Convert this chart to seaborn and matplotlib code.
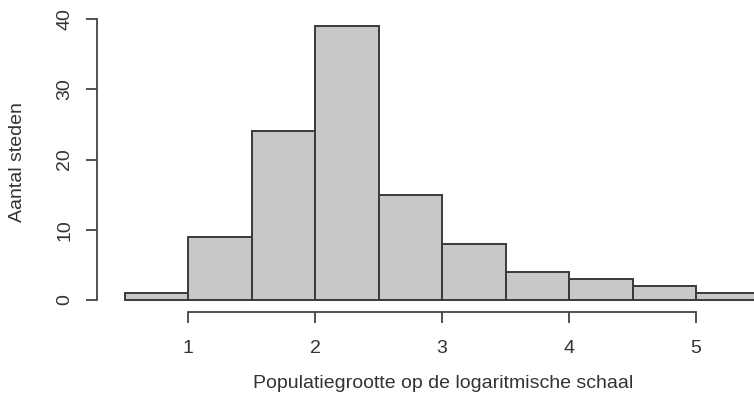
import numpy as np
import matplotlib
matplotlib.use("Agg")
import matplotlib.pyplot as plt
import seaborn as sns

bin_edges = [0.5, 1.0, 1.5, 2.0, 2.5, 3.0, 3.5, 4.0, 4.5, 5.0, 5.5]
counts = [1, 9, 24, 39, 15, 8, 4, 3, 2, 1]
x_ticks = [1, 2, 3, 4, 5]
y_ticks = [0, 10, 20, 30, 40]
x_label = "Populatiegrootte op de logaritmische schaal"
y_label = "Aantal steden"

sns.set_style("ticks")
plt.rcParams['font.family'] = ['Liberation Sans', 'DejaVu Sans']

W, H = 754, 409
fig = plt.figure(figsize=(W / 100, H / 100), dpi=100)

px_per_x = 127.0
x0_px = 188.0  # pixel of x=1
px_per_y = 7.025
y0_px = 300.0  # pixel of y=0

left_px, right_px = 97, 754
bot_px, top_px = 303, 0
ax = fig.add_axes([left_px / W, (H - bot_px) / H, (right_px - left_px) / W, (bot_px - top_px) / H])
ax.set_xlim(1 + (left_px - x0_px) / px_per_x, 1 + (right_px - x0_px) / px_per_x)
ax.set_ylim((y0_px - bot_px) / px_per_y, (y0_px - top_px) / px_per_y)

centers = [(a + b) / 2 for a, b in zip(bin_edges[:-1], bin_edges[1:])]
sns.histplot(x=centers, weights=counts, bins=bin_edges, ax=ax,
             color="#c8c8ca", edgecolor="#3a3a3a", linewidth=1.4, alpha=1)

for s in ["top", "right"]:
    ax.spines[s].set_visible(False)
ax.spines['left'].set_bounds(0, 40)
ax.spines['bottom'].set_bounds(1, 5)
ax.spines['bottom'].set_position(('outward', 9 * 0.72))
for s in ["left", "bottom"]:
    ax.spines[s].set_color("#444444")
    ax.spines[s].set_linewidth(1.3)

ax.set_xticks(x_ticks)
ax.set_yticks(y_ticks)
ax.set_xticklabels([str(t) for t in x_ticks])
ax.set_yticklabels([str(t) for t in y_ticks], rotation=90, va="center")
ax.tick_params(axis='both', colors="#444444", labelcolor="#333333", labelsize=14,
               length=8, width=1.3)
ax.tick_params(axis='x', pad=12)
ax.tick_params(axis='y', pad=9)

ax.set_xlabel("")
ax.set_ylabel("")
fig.text(443 / W, 1 - 383 / H, x_label, ha="center", va="center", fontsize=14, color="#333333")
fig.text(18 / W, 1 - 162 / H, y_label, ha="center", va="center", rotation=90, fontsize=14, color="#333333")

fig.savefig("out.png", dpi=100, facecolor="white")
